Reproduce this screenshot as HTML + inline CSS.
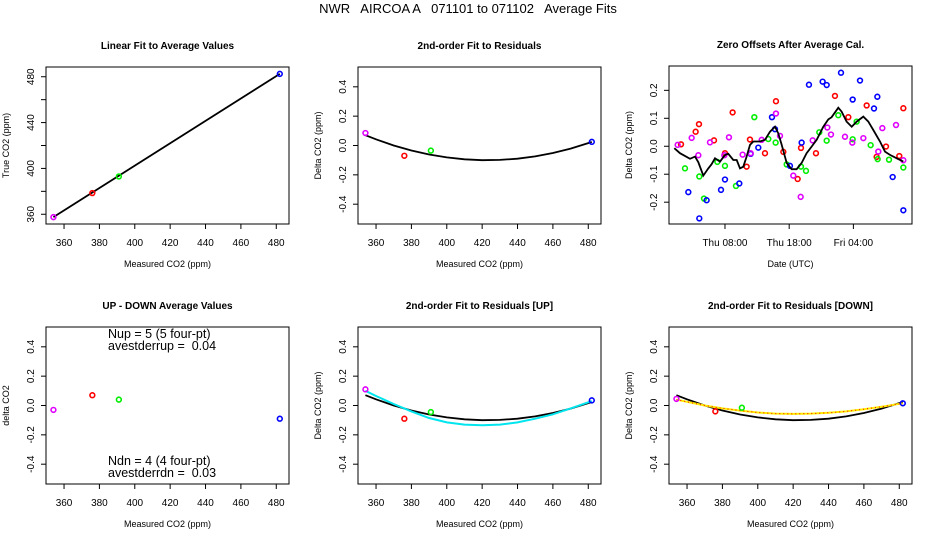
<!DOCTYPE html>
<html><head><meta charset="utf-8"><style>
body{margin:0;background:#fff}
svg{display:block;font-family:"Liberation Sans",sans-serif}
text{white-space:pre}
</style></head><body>
<svg id="c" width="936" height="540" viewBox="0 0 936 540" xml:space="preserve">
<text x="468" y="13" text-anchor="middle" font-size="13" xml:space="preserve">NWR   AIRCOA A   071101 to 071102   Average Fits</text>
</svg>
<script>
// ---- data ----
const gasCO2 = [354, 376, 391, 482];
const gasColors = ['#e000ff', '#ff0000', '#00ee00', '#0000ff'];
const gasNames = ['magenta', 'red', 'green', 'blue'];
const trueCO2 = [357.5, 378.5, 393, 482.5];
const linFitX = [354, 482];
const linFitY = [357.5, 482.5];
const residAll = [0.085, -0.07, -0.035, 0.025];
const residUpDown = [-0.03, 0.07, 0.04, -0.09];
const residUp = [0.11, -0.09, -0.045, 0.035];
const residDown = [0.045, -0.04, -0.015, 0.015];
const fitX = [354, 360, 370, 380, 390, 400, 410, 420, 430, 440, 450, 460, 470, 482];
const fitAll = [0.07, 0.042, 0.0, -0.034, -0.061, -0.081, -0.094, -0.1, -0.098, -0.09, -0.074, -0.051, -0.021, 0.024];
const fitUp = [0.10, 0.065, 0.01, -0.04, -0.085, -0.115, -0.13, -0.135, -0.13, -0.115, -0.09, -0.06, -0.02, 0.03];
const fitDown = [0.04, 0.025, 0.0, -0.02, -0.035, -0.048, -0.055, -0.057, -0.055, -0.05, -0.04, -0.025, -0.008, 0.015];
const co2Ticks = [360, 380, 400, 420, 440, 460, 480];
const trueTicks = [360, 380, 400, 420, 440, 460, 480];
const trueTickLabels = ['360', '', '400', '', '440', '', '480'];
const deltaTicks = [-0.4, -0.2, 0, 0.2, 0.4];
const deltaTickLabels = ['-0.4', '-0.2', '0.0', '0.2', '0.4'];
const zeroTicks = [-0.2, -0.1, 0, 0.1, 0.2];
const zeroTickLabels = ['-0.2', '-0.1', '0.0', '0.1', '0.2'];
const timeTicks = [8, 18, 28];
const timeTickLabels = ['Thu 08:00', 'Thu 18:00', 'Fri 04:00'];
// zero offsets (hours since Thu 00:00 UTC, ppm)
const smoothT = [0.11,0.99,2.55,3.33,3.85,4.63,5.40,5.92,6.44,7.22,8.0,8.52,9.30,9.82,10.34,10.86,11.37,11.89,12.41,13.45,14.23,15.01,15.79,16.31,16.83,17.61,18.38,19.16,19.94,20.72,21.50,22.28,23.32,24.10,24.61,25.65,26.17,26.95,27.73,28.51,29.55,30.33,31.10,32.14,32.92,33.70,34.74,35.78];
const smoothV = [-0.007,-0.025,-0.045,-0.037,-0.057,-0.105,-0.079,-0.064,-0.043,-0.055,-0.031,-0.027,-0.049,-0.049,-0.079,-0.073,-0.037,0.005,0.017,0.017,0.023,0.052,0.070,0.046,0.005,-0.060,-0.082,-0.082,-0.060,-0.025,-0.001,0.023,0.070,0.096,0.104,0.138,0.124,0.088,0.070,0.088,0.106,0.088,0.058,0.017,-0.019,-0.031,-0.043,-0.055];
const redT = [1.15,3.43,3.95,6.29,8.0,9.19,11.37,11.89,14.23,15.94,17.09,19.32,19.84,22.17,25.13,27.21,30.07,31.62,33.08,35.15,35.78];
const redV = [0.007,0.052,0.079,0.021,-0.025,0.121,-0.073,0.024,-0.025,0.161,-0.020,-0.117,-0.006,-0.025,0.180,0.104,0.146,-0.038,-0.001,-0.035,0.136];
const greenT = [1.77,4.0,4.73,6.81,8.0,9.71,12.57,14.75,15.89,17.61,19.84,20.62,22.69,23.84,25.65,27.89,28.51,30.69,31.78,33.55,35.78];
const greenV = [-0.079,-0.108,-0.187,-0.056,-0.070,-0.142,0.104,0.026,0.013,-0.065,-0.073,-0.088,0.050,0.020,0.111,0.025,0.088,0.004,-0.046,-0.048,-0.076];
const blueT = [2.29,4.0,5.14,7.38,8.0,10.23,12.0,13.19,15.32,15.79,18.12,19.94,21.08,23.21,23.84,26.07,27.89,29.03,31.21,31.73,34.12,35.78];
const blueV = [-0.164,-0.258,-0.193,-0.156,-0.119,-0.133,-0.027,-0.005,0.104,0.061,-0.070,0.013,0.220,0.231,0.219,0.263,0.167,0.235,0.135,0.177,-0.110,-0.229];
const magT = [0.63,2.81,3.85,5.66,7.9,8.62,10.75,12.0,13.71,15.94,16.57,18.64,19.79,21.66,23.94,24.51,26.69,27.83,29.55,31.88,32.51,34.64,35.78];
const magV = [0.005,0.030,-0.032,0.014,-0.032,0.032,-0.030,-0.025,0.023,0.117,0.037,-0.105,-0.181,0.021,0.067,0.042,0.034,0.013,0.029,-0.019,0.065,0.076,-0.050];

const NS = 'http://www.w3.org/2000/svg';
const svg = document.getElementById('c');
function mk(tag, attrs, parent) {
  const e = document.createElementNS(NS, tag);
  for (const k in attrs) e.setAttribute(k, attrs[k]);
  (parent || svg).appendChild(e);
  return e;
}
function panel(name, box, xd, yd, title, xlab, ylab) {
  const g = mk('g', {});
  
  
  const sx = v => box.x + (v - xd[0]) / (xd[1] - xd[0]) * box.w;
  const sy = v => box.y + box.h - (v - yd[0]) / (yd[1] - yd[0]) * box.h;
  const r = mk('rect', {x: box.x, y: box.y, width: box.w, height: box.h, fill: 'none', stroke: '#000', 'stroke-width': 1}, g);
  
  
  const t = mk('text', {x: box.x + box.w / 2, y: box.y - 18, 'text-anchor': 'middle', 'font-size': 10, 'font-weight': 'bold'}, g);
  t.textContent = title;
  
  
  const xl = mk('text', {x: box.x + box.w / 2, y: box.y + box.h + 43, 'text-anchor': 'middle', 'font-size': 9}, g);
  xl.textContent = xlab;
  
  
  const yx = box.x - 37, yy = box.y + box.h / 2;
  const yl = mk('text', {x: yx, y: yy, 'text-anchor': 'middle', 'font-size': 9, transform: `rotate(-90 ${yx} ${yy})`}, g);
  yl.textContent = ylab;
  
  
  return {g, sx, sy, box};
}
function xTicks(p, ticks, labels) {
  const yb = p.box.y + p.box.h;
  ticks.forEach((v, i) => {
    const x = p.sx(v);
    const l = mk('line', {x1: x, x2: x, y1: yb, y2: yb + 5, stroke: '#000'}, p.g);
    
    
    if (labels[i]) {
      const t = mk('text', {x: x, y: yb + 22, 'text-anchor': 'middle', 'font-size': 10}, p.g);
      t.textContent = labels[i];
      
      
    }
  });
}
function yTicks(p, ticks, labels) {
  const xb = p.box.x;
  ticks.forEach((v, i) => {
    const y = p.sy(v);
    const l = mk('line', {x1: xb - 5, x2: xb, y1: y, y2: y, stroke: '#000'}, p.g);
    
    
    if (labels[i]) {
      const tx = xb - 12;
      const t = mk('text', {x: tx, y: y, 'text-anchor': 'middle', 'font-size': 10, transform: `rotate(-90 ${tx} ${y})`}, p.g);
      t.textContent = labels[i];
      
      
    }
  });
}
function line(p, xs, ys, color, w, name, dash) {
  const pts = xs.map((x, i) => p.sx(x).toFixed(1) + ',' + p.sy(ys[i]).toFixed(1)).join(' ');
  const a = {points: pts, fill: 'none', stroke: color, 'stroke-width': w};
  if (dash) a['stroke-dasharray'] = dash;
  const l = mk('polyline', a, p.g);
  
  
  return l;
}
function pts(p, xs, ys, colors, names) {
  xs.forEach((x, i) => {
    const c = mk('circle', {cx: p.sx(x), cy: p.sy(ys[i]), r: 2.4, fill: 'none', stroke: Array.isArray(colors) ? colors[i] : colors, 'stroke-width': 1.6}, p.g);
    
    
  });
}
const XD = [349.8, 487.2];
const DY = [-0.535, 0.535];
let p = panel('linear-fit-panel', {x: 46, y: 67, w: 243, h: 157}, XD, [351.5, 488.5], 'Linear Fit to Average Values', 'Measured CO2 (ppm)', 'True CO2 (ppm)');
xTicks(p, co2Ticks, co2Ticks.map(String)); yTicks(p, trueTicks, trueTickLabels);
line(p, linFitX, linFitY, '#000', 1.8, 'linear-fit-line');
pts(p, gasCO2, trueCO2, gasColors, gasNames);
p = panel('residual-fit-panel', {x: 358, y: 67, w: 243, h: 157}, XD, DY, '2nd-order Fit to Residuals', 'Measured CO2 (ppm)', 'Delta CO2 (ppm)');
xTicks(p, co2Ticks, co2Ticks.map(String)); yTicks(p, deltaTicks, deltaTickLabels);
line(p, fitX, fitAll, '#000', 1.8, 'quadratic-fit-line');
pts(p, gasCO2, residAll, gasColors, gasNames);
p = panel('zero-offsets-panel', {x: 669, y: 66, w: 243, h: 158}, [-0.72, 37.13], [-0.278, 0.287], 'Zero Offsets After Average Cal.', 'Date (UTC)', 'Delta CO2 (ppm)');
xTicks(p, timeTicks, timeTickLabels); yTicks(p, zeroTicks, zeroTickLabels);
pts(p, redT, redV, '#ff0000', 'red');
pts(p, greenT, greenV, '#00ee00', 'green');
pts(p, blueT, blueV, '#0000ff', 'blue');
pts(p, magT, magV, '#e000ff', 'magenta');
line(p, smoothT, smoothV, '#000', 1.8, 'smoothed-offset-line');
p = panel('up-down-panel', {x: 46, y: 327, w: 243, h: 157}, XD, DY, 'UP - DOWN Average Values', 'Measured CO2 (ppm)', 'delta CO2');
xTicks(p, co2Ticks, co2Ticks.map(String)); yTicks(p, deltaTicks, deltaTickLabels);
pts(p, gasCO2, residUpDown, gasColors, gasNames);
[['Nup = 5 (5 four-pt)', 338, 'nup-label'], ['avestderrup =  0.04', 350, 'avestderrup-label'], ['Ndn = 4 (4 four-pt)', 465, 'ndn-label'], ['avestderrdn =  0.03', 477, 'avestderrdn-label']].forEach(a => {
  const t = mk('text', {x: 108, y: a[1], 'font-size': 12.5}, p.g);
  t.setAttributeNS('http://www.w3.org/XML/1998/namespace', 'xml:space', 'preserve');
  t.textContent = a[0];
  
  
});
p = panel('up-fit-panel', {x: 358, y: 327, w: 243, h: 157}, XD, DY, '2nd-order Fit to Residuals [UP]', 'Measured CO2 (ppm)', 'Delta CO2 (ppm)');
xTicks(p, co2Ticks, co2Ticks.map(String)); yTicks(p, deltaTicks, deltaTickLabels);
line(p, fitX, fitAll, '#000', 1.8, 'average-fit-line');
line(p, fitX, fitUp, '#00e5ee', 2, 'up-fit-line');
pts(p, gasCO2, residUp, gasColors, gasNames);
p = panel('down-fit-panel', {x: 669, y: 327, w: 243, h: 157}, XD, DY, '2nd-order Fit to Residuals [DOWN]', 'Measured CO2 (ppm)', 'Delta CO2 (ppm)');
xTicks(p, co2Ticks, co2Ticks.map(String)); yTicks(p, deltaTicks, deltaTickLabels);
line(p, fitX, fitAll, '#000', 1.8, 'average-fit-line');
line(p, fitX, fitDown, '#ffee00', 2, 'down-fit-line');
line(p, fitX, fitDown, '#ff0000', 1, 'down-fit-dots', '1 3');
pts(p, gasCO2, residDown, gasColors, gasNames);
</script>
</body></html>
